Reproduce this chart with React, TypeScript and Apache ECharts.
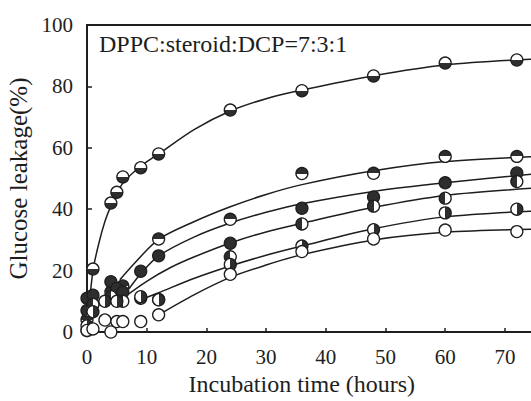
import React, { useEffect, useRef } from "react";
import * as echarts from "echarts";

// ---- data ----
const xTicks = [0, 10, 20, 30, 40, 50, 60, 70];
const yTicks = [0, 20, 40, 60, 80, 100];
const seriesNames = ["S1", "S2", "S3", "S4", "S5", "S6"];

// measured points [hours, leakage %]
const pointsS1 = [[0, 0.5], [1, 20.5], [4, 42], [5, 45.5], [6, 50.5], [9, 53.5], [12, 58], [24, 72.3], [36, 78.6], [48, 83.4], [60, 87.6], [72, 88.6]];
const pointsS2 = [[0, 4], [1, 9], [4, 13], [6, 15], [12, 30.3], [24, 36.7], [36, 51.6], [48, 51.7], [60, 57.2], [72, 57.2]];
const pointsS3 = [[0, 11], [1, 12], [4, 16.4], [5, 14.2], [6, 13], [9, 19.8], [12, 24.8], [24, 28.9], [36, 40.3], [48, 44], [60, 48.6], [72, 51.8]];
const pointsS4 = [[0, 7], [1, 9], [4, 11.5], [6, 10], [9, 11], [12, 10.6], [24, 24.5], [36, 35.2], [48, 41], [60, 43.6], [72, 49]];
const pointsS5 = [[0, 2], [1, 6.6], [3, 10], [5, 10], [9, 11.5], [12, 10.5], [24, 22], [36, 28], [48, 33.3], [60, 38.8], [72, 40]];
const pointsS6 = [[0, 0.5], [1, 1], [3, 3.9], [4, 0], [5, 3.4], [6, 3.4], [9, 3.4], [12, 5.6], [24, 18.8], [36, 26.2], [48, 30.3], [60, 33.2], [72, 32.7]];

// fitted curves
const curveS1 = [[0, 1], [1, 20], [2, 29], [3, 36], [4, 41], [6, 48.5], [9, 54], [12, 58], [18, 66], [24, 72], [30, 76], [36, 78.8], [48, 83.5], [60, 87], [76, 89]];
const curveS2 = [[5.5, 17], [8, 22.5], [12, 30.2], [18, 36], [24, 40.8], [30, 44.8], [36, 48], [48, 52.5], [60, 55.5], [76, 57.2]];
const curveS3 = [[7, 14], [9, 19], [12, 24.8], [18, 31], [24, 35.5], [30, 39], [36, 41.8], [48, 45.8], [60, 48.6], [76, 51.7]];
const curveS4 = [[6, 11], [10, 16.5], [14, 21], [18, 24.5], [24, 29], [30, 32.6], [36, 35.4], [48, 40.6], [60, 44.5], [76, 47]];
const curveS5 = [[9, 10.5], [12, 12.8], [18, 17.5], [24, 21.5], [30, 25], [36, 28], [48, 33.6], [60, 37.5], [76, 39.5]];
const curveS6 = [[12, 5.6], [18, 12.2], [24, 17.8], [30, 21.8], [36, 25.2], [48, 30], [60, 32.5], [76, 33.5]];

const allPoints = [pointsS1, pointsS2, pointsS3, pointsS4, pointsS5, pointsS6];
const allCurves = [curveS1, curveS2, curveS3, curveS4, curveS5, curveS6];

const DARK = "#2e2e2e";
const INK = "#1e1e1e";
const FONT = "Liberation Serif";

function halfFill(dir: string) {
  const W = "#ffffff";
  const stops = (a: string, b: string) => [
    { offset: 0, color: a },
    { offset: 0.5, color: a },
    { offset: 0.5, color: b },
    { offset: 1, color: b },
  ];
  if (dir === "bottom") return new echarts.graphic.LinearGradient(0, 0, 0, 1, stops(W, DARK));
  if (dir === "top") return new echarts.graphic.LinearGradient(0, 0, 0, 1, stops(DARK, W));
  if (dir === "left") return new echarts.graphic.LinearGradient(0, 0, 1, 0, stops(DARK, W));
  if (dir === "right") return new echarts.graphic.LinearGradient(0, 0, 1, 0, stops(W, DARK));
  if (dir === "full") return DARK;
  return W;
}
const fills = ["bottom", "top", "full", "left", "right", "open"];

export default function App() {
  const ref = useRef<HTMLDivElement>(null);
  useEffect(() => {
    if (!ref.current) return;
    const chart = echarts.init(ref.current, undefined, { renderer: "svg" });
    const lineSeries = allCurves.map((c, i) => ({
      name: seriesNames[i] + " fit",
      type: "line",
      data: c,
      smooth: 0.3,
      showSymbol: false,
      symbol: "none",
      lineStyle: { color: INK, width: 1.5 },
      z: 2,
      silent: true,
    }));
    const scatterSeries = allPoints.map((p, i) => ({
      name: seriesNames[i],
      type: "scatter",
      data: p,
      symbol: "circle",
      symbolSize: 12,
      itemStyle: { color: halfFill(fills[i]), borderColor: INK, borderWidth: 1.3, opacity: 1 },
      z: 3 + i,
    }));
    chart.setOption({
      animation: false,
      backgroundColor: "#ffffff",
      textStyle: { fontFamily: FONT },
      grid: {
        left: 87, top: 25, bottom: 69, right: -33.6,
        outerBoundsMode: "none", containLabel: false,
        show: true, borderColor: INK, borderWidth: 2, backgroundColor: "transparent",
      },
      xAxis: {
        type: "value",
        min: 0,
        max: 80,
        interval: 10,
        axisLine: { show: true, lineStyle: { color: INK, width: 2 } },
        axisTick: { show: true, inside: true, length: 4, lineStyle: { color: INK, width: 1.5 } },
        splitLine: { show: false },
        axisLabel: {
          color: INK, fontFamily: FONT, fontSize: 21, margin: 14,
          formatter: (v: number) => (xTicks.includes(v) ? String(v) : ""),
        },
        name: "Incubation time (hours)",
        nameLocation: "middle",
        nameGap: 39,
        nameTextStyle: { color: INK, fontFamily: FONT, fontSize: 24, padding: [0, 48, 0, 0] },
      },
      yAxis: {
        type: "value",
        min: 0,
        max: 100,
        interval: 20,
        axisLine: { show: true, lineStyle: { color: INK, width: 2 } },
        axisTick: { show: true, inside: true, length: 5, lineStyle: { color: INK, width: 1.5 } },
        splitLine: { show: false },
        axisLabel: {
          color: INK, fontFamily: FONT, fontSize: 21, margin: 14,
          formatter: (v: number) => (yTicks.includes(v) ? String(v) : ""),
        },
        name: "Glucose leakage(%)",
        nameLocation: "middle",
        nameGap: 52,
        nameRotate: 90,
        nameTextStyle: { color: INK, fontFamily: FONT, fontSize: 25 },
      },
      graphic: [
        {
          type: "text",
          left: 99,
          top: 32,
          style: { text: "DPPC:steroid:DCP=7:3:1", fill: INK, fontFamily: FONT, fontSize: 24 },
          z: 10,
        },
      ],
      series: [...lineSeries, ...scatterSeries],
    });
    return () => chart.dispose();
  }, []);
  return (
    <div
      ref={ref}
      style={{ position: "absolute", left: 0, top: 0, width: 531, height: 401, overflow: "hidden", background: "#fff" }}
    />
  );
}
